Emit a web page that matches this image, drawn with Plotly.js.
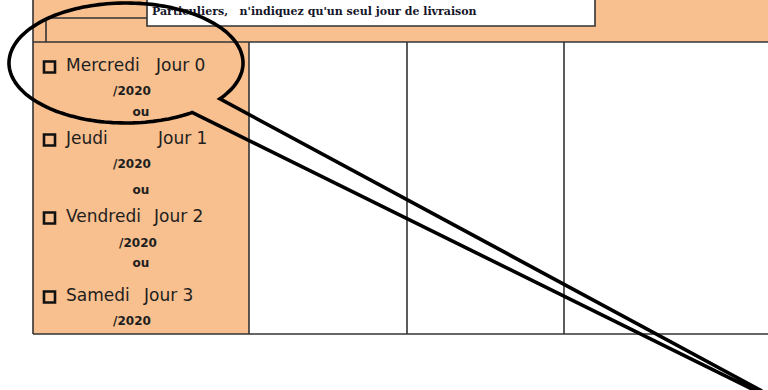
<!DOCTYPE html>
<html>
<head>
<meta charset="utf-8">
<script src="https://cdn.plot.ly/plotly-3.0.1.min.js"></script>
<style>
  html, body { margin: 0; padding: 0; background: #fff; }
  #chart { width: 768px; height: 390px; }
</style>
</head>
<body>
<div id="chart"></div>
<script>
// form content
var days = ['Mercredi', 'Jeudi', 'Vendredi', 'Samedi'];
var jours = ['Jour 0', 'Jour 1', 'Jour 2', 'Jour 3'];
var dates = ['/2020', '/2020', '/2020', '/2020'];
var separators = ['ou', 'ou', 'ou'];
var headerNote = ["Particuliers,   n'indiquez qu'un seul jour de livraison"];

// layout of the form (pixels, y down)
var rowY = [67, 140, 218, 297];
var dateY = [92, 165, 244, 322];
var ouY = [113, 191, 264];
var jourX = [156, 158, 154, 144];
var dateX = [132, 132, 138, 132];
var colX = [33, 249, 407, 564];
var headerBottom = 42;
var tableBottom = 334;

var orange = '#F8BF8F';
var lineCol = '#333';

var dayFont = {family: 'DejaVu Sans', size: 17, color: '#1e1e1e'};
var smallFont = {family: 'DejaVu Sans', size: 12, color: '#1e1e1e', weight: 'bold'};

function fill(n, v) {
    var a = [];
    for (var i = 0; i < n; i++) a.push(v);
    return a;
}

var traces = [
    {
        x: fill(days.length, 66), y: rowY, text: days,
        mode: 'text', textposition: 'middle right', textfont: dayFont,
        hoverinfo: 'skip', showlegend: false
    },
    {
        x: jourX, y: rowY, text: jours,
        mode: 'text', textposition: 'middle right', textfont: dayFont,
        hoverinfo: 'skip', showlegend: false
    },
    {
        x: dateX, y: dateY, text: dates,
        mode: 'text', textposition: 'middle center', textfont: smallFont,
        hoverinfo: 'skip', showlegend: false
    },
    {
        x: fill(separators.length, 141), y: ouY, text: separators,
        mode: 'text', textposition: 'middle center', textfont: smallFont,
        hoverinfo: 'skip', showlegend: false
    },
    {
        x: [152], y: [12], text: headerNote,
        mode: 'text', textposition: 'middle right',
        textfont: {family: 'DejaVu Serif', size: 11, color: '#15152a', weight: 'bold'},
        hoverinfo: 'skip', showlegend: false
    }
];

var shapes = [];
// orange header band and first column
shapes.push({type: 'rect', layer: 'below', x0: colX[0], x1: 768, y0: -2, y1: headerBottom,
    fillcolor: orange, line: {width: 0}});
shapes.push({type: 'rect', layer: 'below', x0: colX[0], x1: colX[1], y0: headerBottom, y1: tableBottom,
    fillcolor: orange, line: {width: 0}});
// table lines
shapes.push({type: 'line', layer: 'below', x0: colX[0], x1: colX[0], y0: -2, y1: tableBottom,
    line: {color: lineCol, width: 1.6}});
for (var c = 1; c < colX.length; c++) {
    shapes.push({type: 'line', layer: 'below', x0: colX[c], x1: colX[c], y0: headerBottom, y1: tableBottom,
        line: {color: lineCol, width: 1.6}});
}
shapes.push({type: 'line', layer: 'below', x0: colX[0], x1: 770, y0: headerBottom, y1: headerBottom,
    line: {color: lineCol, width: 1.6}});
shapes.push({type: 'line', layer: 'below', x0: colX[0], x1: 770, y0: tableBottom, y1: tableBottom,
    line: {color: lineCol, width: 1.6}});
// small inner frame of the header
shapes.push({type: 'line', layer: 'below', x0: 46, x1: 46, y0: 18, y1: headerBottom,
    line: {color: lineCol, width: 1.6}});
shapes.push({type: 'line', layer: 'below', x0: 46, x1: 147, y0: 18, y1: 18,
    line: {color: lineCol, width: 1.6}});
// white note box
shapes.push({type: 'rect', layer: 'below', x0: 147, x1: 595, y0: -2, y1: 26,
    fillcolor: '#fff', line: {color: lineCol, width: 1.6}});
// checkboxes
rowY.forEach(function (y) {
    shapes.push({type: 'rect', layer: 'above', x0: 44, x1: 55, y0: y - 5.5, y1: y + 5.5,
        line: {color: '#111', width: 2.6}});
});

// speech bubble: ellipse with a gap where the tail leaves
var cx = 126, cy = 63, rx = 117, ry = 60;
var tStart = 36.6, tEnd = 55.6 - 360;
var path = 'M 762 391 L ' + (cx + rx * Math.cos(tStart * Math.PI / 180)).toFixed(1) + ' ' +
    (cy + ry * Math.sin(tStart * Math.PI / 180)).toFixed(1);
for (var t = tStart - 2; t > tEnd; t -= 2) {
    var a = t * Math.PI / 180;
    path += ' L ' + (cx + rx * Math.cos(a)).toFixed(1) + ' ' + (cy + ry * Math.sin(a)).toFixed(1);
}
path += ' L ' + (cx + rx * Math.cos(tEnd * Math.PI / 180)).toFixed(1) + ' ' +
    (cy + ry * Math.sin(tEnd * Math.PI / 180)).toFixed(1);
path += ' L 760 393';
shapes.push({type: 'path', layer: 'above', path: path, line: {color: '#000', width: 3.6}});

var layout = {
    width: 768,
    height: 390,
    margin: {l: 0, r: 0, t: 0, b: 0},
    paper_bgcolor: '#fff',
    plot_bgcolor: '#fff',
    xaxis: {range: [0, 768], visible: false, fixedrange: true},
    yaxis: {range: [390, 0], visible: false, fixedrange: true},
    shapes: shapes,
    showlegend: false
};

Plotly.newPlot('chart', traces, layout, {staticPlot: true, displayModeBar: false});
</script>
</body>
</html>
